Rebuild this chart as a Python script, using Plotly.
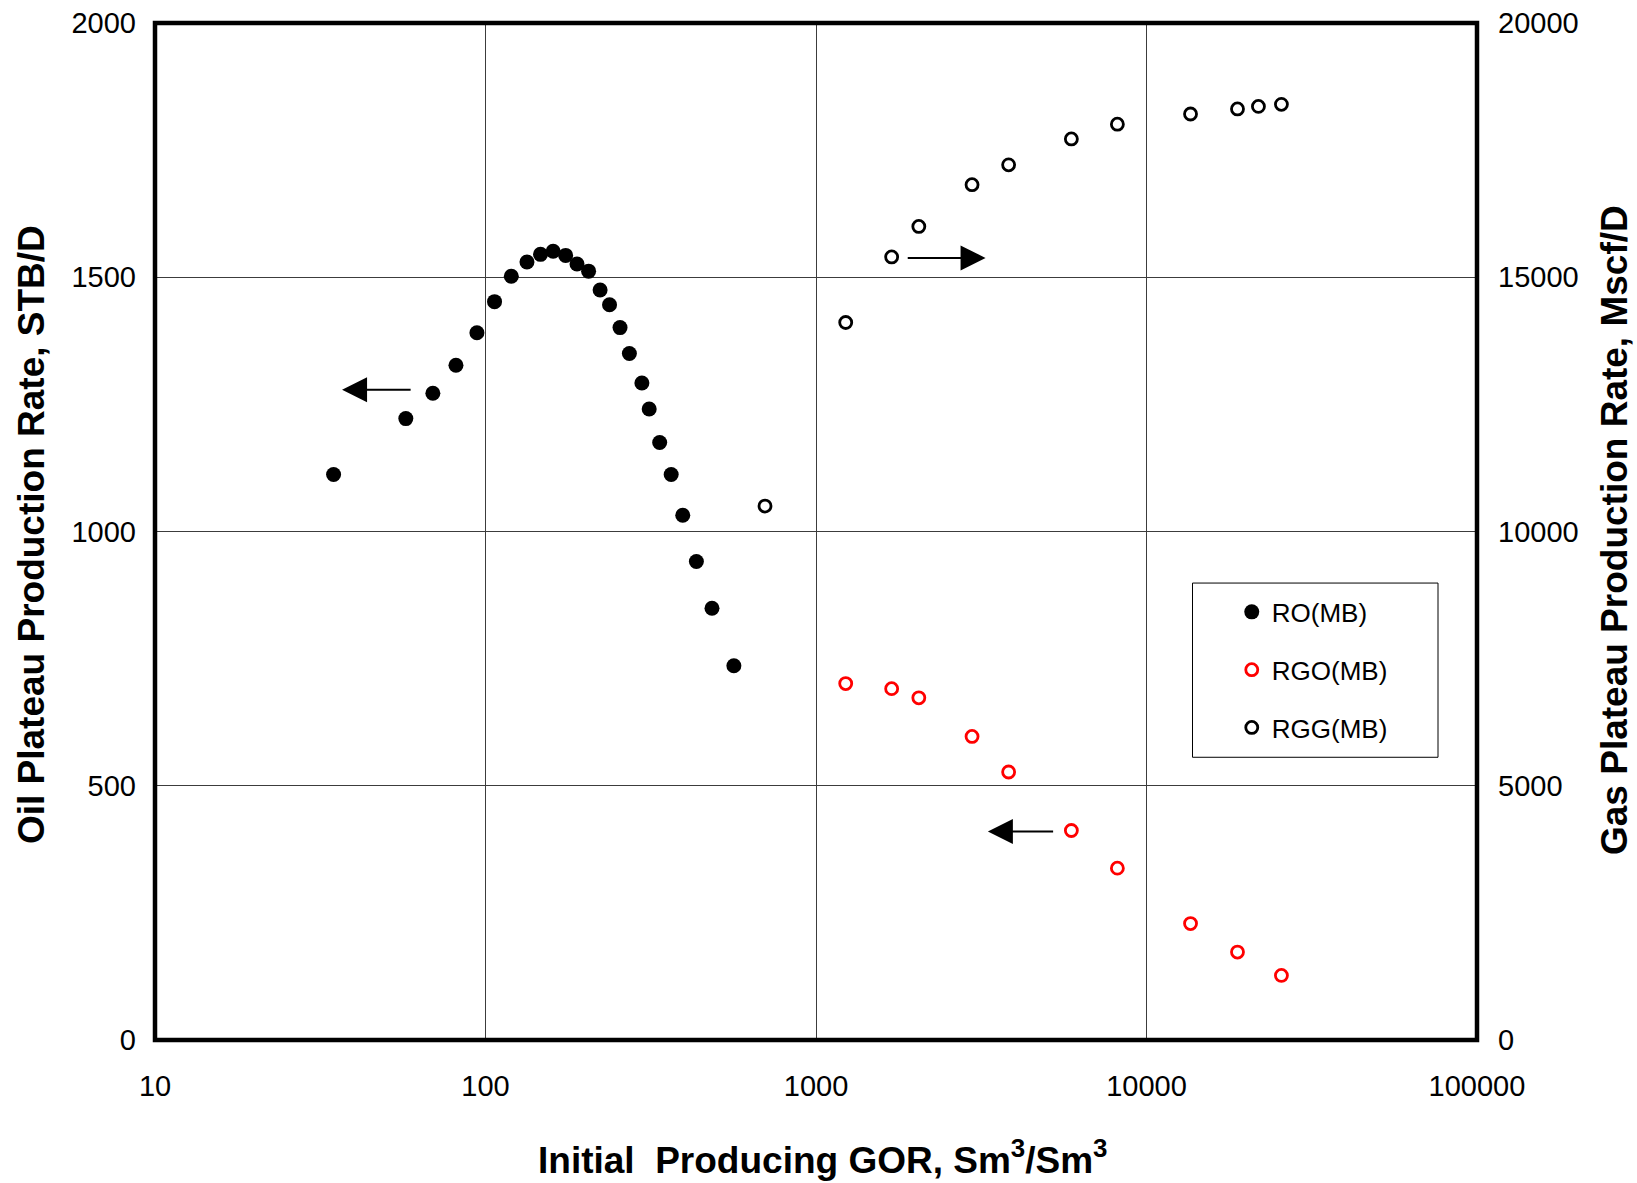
import plotly.graph_objects as go

# ---------------- data ----------------
gor_ro = [34.7, 57.4, 69.3, 81.4, 94.2, 106.5, 119.7, 133.5, 146.7, 160.2, 174.8, 189.2,
          205.1, 222.2, 237.3, 255.3, 272.5, 297.3, 312.8, 336.5, 364.6, 395.2, 434.6,
          484.5, 564.3]
ro_rate = [1112, 1222, 1272, 1327, 1391, 1452, 1502, 1530, 1545, 1551, 1543, 1526,
           1512, 1475, 1446, 1401, 1350, 1292, 1241, 1175, 1112, 1032, 941,
           849, 736]

gor_rgo = [1230, 1694, 2047, 2966, 3827, 5925, 8164, 13590, 18850, 25600]
rgo_rate = [701, 691, 673, 597, 527, 412, 338, 229, 173, 127]

gor_rgg = [701, 1230, 1694, 2047, 2966, 3827, 5925, 8164, 13590, 18850, 21810, 25600]
rgg_rate = [10500, 14110, 15400, 16000, 16820, 17210, 17720, 18010, 18210, 18310, 18360, 18400]

x_ticks = [10, 100, 1000, 10000, 100000]
x_tick_labels = ["10", "100", "1000", "10000", "100000"]
oil_ticks = [0, 500, 1000, 1500, 2000]
oil_tick_labels = ["0", "500", "1000", "1500", "2000"]
gas_ticks = [0, 5000, 10000, 15000, 20000]
gas_tick_labels = ["0", "5000", "10000", "15000", "20000"]

series_names = ["RO(MB)", "RGO(MB)", "RGG(MB)"]

FONT = "Liberation Sans, Arial, sans-serif"
GRID = "#3c3c3c"

fig = go.Figure()
fig.add_trace(go.Scatter(
    x=gor_ro, y=ro_rate, mode="markers", name=series_names[0], legendgroup="g1",
    marker=dict(symbol="circle", size=15, color="black", line=dict(width=0))))
fig.add_trace(go.Scatter(
    x=gor_rgo, y=rgo_rate, mode="markers", name=series_names[1], legendgroup="g2",
    marker=dict(symbol="circle-open", size=12, color="#ff0000",
                line=dict(width=2.8, color="#ff0000"))))
fig.add_trace(go.Scatter(
    x=gor_rgg, y=rgg_rate, mode="markers", name=series_names[2], legendgroup="g3",
    yaxis="y2",
    marker=dict(symbol="circle-open", size=12, color="black",
                line=dict(width=2.8, color="black"))))

axis_common = dict(showline=False, ticks="", zeroline=False, automargin=False,
                   tickfont=dict(family=FONT, size=29, color="black"))

fig.update_layout(
    width=1637, height=1183,
    margin=dict(l=155, r=160, t=23, b=143, autoexpand=False),
    paper_bgcolor="white", plot_bgcolor="white",
    font=dict(family=FONT, color="black"),
    xaxis=dict(type="log", range=[1, 5], tickvals=x_ticks, ticktext=x_tick_labels,
               showgrid=True, gridcolor=GRID, gridwidth=1, ticklabelstandoff=26,
               **axis_common),
    yaxis=dict(range=[0, 2000], tickvals=oil_ticks, ticktext=oil_tick_labels,
               showgrid=True, gridcolor=GRID, gridwidth=1, ticklabelstandoff=18,
               **axis_common),
    yaxis2=dict(range=[0, 20000], tickvals=gas_ticks, ticktext=gas_tick_labels,
                overlaying="y", side="right", showgrid=False, ticklabelstandoff=20,
                **axis_common),
    showlegend=True,
    legend=dict(x=0.8145, y=0.4440, xanchor="left", yanchor="top",
                bgcolor="rgba(0,0,0,0)", borderwidth=0, tracegroupgap=21,
                font=dict(family=FONT, size=26, color="black"), itemwidth=30),
)

# plot frame and legend frame
fig.add_shape(type="rect", xref="paper", yref="paper", x0=0, x1=1, y0=0, y1=1,
              line=dict(color="black", width=4.5), layer="above")
fig.add_shape(type="rect", xref="paper", yref="paper", x0=0.7848, x1=0.9705,
              y0=0.278, y1=0.4493, line=dict(color="black", width=1), layer="above")

# axis titles
title_font = dict(family=FONT, size=37, color="black")
fig.add_annotation(text="<b>Oil Plateau Production Rate, STB/D</b>", xref="paper", yref="paper",
                   x=-0.0938, y=0.4975, textangle=-90, showarrow=False,
                   xanchor="center", yanchor="middle", font=title_font)
fig.add_annotation(text="<b>Gas Plateau Production Rate, Mscf/D</b>", xref="paper", yref="paper",
                   x=1.1044, y=0.5015, textangle=-90, showarrow=False,
                   xanchor="center", yanchor="middle", font=title_font)
fig.add_annotation(text="<b>Initial  Producing GOR, Sm<sup>3</sup>/Sm<sup>3</sup></b>",
                   xref="paper", yref="paper", x=0.5053, y=-0.1157, showarrow=False,
                   xanchor="center", yanchor="middle", font=title_font)

# arrows pointing to the axis each series belongs to
arrow_style = dict(text="", showarrow=True, arrowhead=2, arrowsize=2.5, arrowwidth=2,
                   arrowcolor="black", xref="x", yref="y", axref="x", ayref="y")
fig.add_annotation(x=1.566, y=1279, ax=1.778, ay=1279, **arrow_style)
fig.add_annotation(x=3.513, y=1538, ax=3.273, ay=1538, **arrow_style)
fig.add_annotation(x=3.520, y=410, ax=3.722, ay=410, **arrow_style)

fig.write_html("out.html")
